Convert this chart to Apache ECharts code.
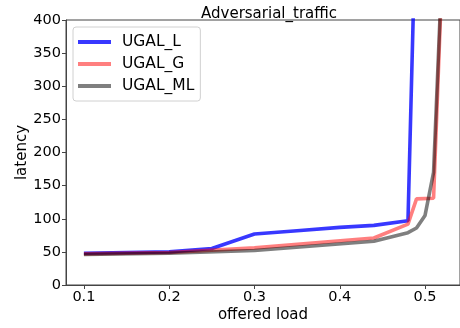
<!DOCTYPE html>
<html>
<head>
<meta charset="utf-8">
<script src="https://cdn.jsdelivr.net/npm/echarts@6/dist/echarts.min.js"></script>
<style>
html,body{margin:0;padding:0;background:#fff;}
#chart{width:460px;height:328px;}
</style>
</head>
<body>
<div id="chart"></div>
<script>
var seriesNames = ['UGAL_L', 'UGAL_G', 'UGAL_ML'];
var loadL = [0.1, 0.2, 0.25, 0.3, 0.35, 0.4, 0.44, 0.48, 0.49];
var latL = [48, 50, 55, 77, 82, 87, 90, 97, 600];
var loadG = [0.1, 0.2, 0.3, 0.44, 0.48, 0.49, 0.51, 0.52];
var latG = [47, 49, 56, 71, 92, 130, 131, 470];
var loadML = [0.1, 0.2, 0.3, 0.44, 0.48, 0.49, 0.5, 0.51, 0.52];
var latML = [46, 48, 52, 66, 79, 86, 105, 170, 480];
var xTicks = [0.1, 0.2, 0.3, 0.4, 0.5];
var colors = ['rgba(0,0,255,0.78)', 'rgba(255,0,0,0.5)', 'rgba(0,0,0,0.5)'];

function pairs(xs, ys) {
	var out = [];
	for (var i = 0; i < xs.length; i++) out.push([xs[i], ys[i]]);
	return out;
}
var allData = [pairs(loadL, latL), pairs(loadG, latG), pairs(loadML, latML)];

var chart = echarts.init(document.getElementById('chart'));
var font = 'DejaVu Sans';
var series = [];
for (var i = 0; i < seriesNames.length; i++) {
	series.push({
		name: seriesNames[i],
		type: 'line',
		data: allData[i],
		showSymbol: false,
		symbol: 'none',
		clip: true,
		color: colors[i],
		lineStyle: { width: 3.6, color: colors[i] },
		emphasis: { disabled: true }
	});
}

var option = {
	animation: false,
	backgroundColor: '#fff',
	title: {
		text: 'Adversarial_traffic',
		left: 264,
		textAlign: 'center',
		top: 2,
		textStyle: { fontFamily: font, fontSize: 15, fontWeight: 'normal', color: '#000' }
	},
	legend: {
		orient: 'vertical',
		left: 73,
		top: 27,
		data: seriesNames,
		icon: 'rect',
		itemWidth: 33,
		itemHeight: 4,
		itemGap: 6,
		padding: [7, 6, 7, 5],
		backgroundColor: '#fff',
		borderColor: '#d0d0d0',
		borderWidth: 1,
		borderRadius: 3,
		textStyle: { fontFamily: font, fontSize: 15.5, color: '#000', padding: [0, 0, 0, 6] }
	},
	grid: {
		left: 66,
		top: 20,
		width: 396,
		height: 267,
		show: true,
		borderColor: '#444',
		borderWidth: 1,
		containLabel: false
	},
	xAxis: {
		type: 'value',
		min: 0.079,
		max: 0.541,
		name: 'offered load',
		nameLocation: 'middle',
		nameGap: 23,
		nameMoveOverlap: false,
		nameTextStyle: { fontFamily: font, fontSize: 15, color: '#000' },
		axisLine: { show: true, lineStyle: { color: '#444' } },
		axisTick: { show: true, customValues: xTicks, length: 4, lineStyle: { color: '#444' } },
		axisLabel: {
			customValues: xTicks,
			fontFamily: font, fontSize: 14.5, color: '#000', margin: 5,
			formatter: function (v) { return v.toFixed(1); }
		},
		splitLine: { show: false }
	},
	yAxis: {
		type: 'value',
		min: 0,
		max: 400,
		interval: 50,
		name: 'latency',
		nameLocation: 'middle',
		nameGap: 36,
		nameMoveOverlap: false,
		nameRotate: 90,
		nameTextStyle: { fontFamily: font, fontSize: 15, color: '#000' },
		axisLine: { show: true, lineStyle: { color: '#444' } },
		axisTick: { show: true, length: 4, lineStyle: { color: '#444' } },
		axisLabel: { fontFamily: font, fontSize: 14.5, color: '#000', margin: 5 },
		splitLine: { show: false }
	},
	series: series
};
chart.setOption(option);
</script>
</body>
</html>
